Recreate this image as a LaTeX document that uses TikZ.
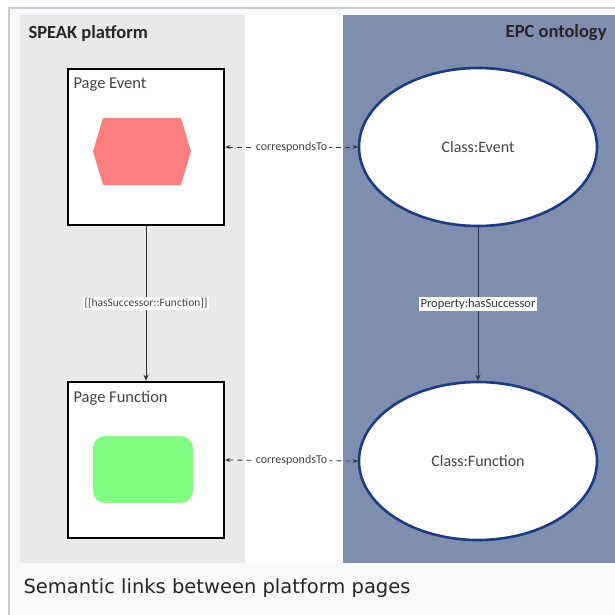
\documentclass[tikz,border=0pt]{standalone}
\usepackage{fontspec}
\setmainfont{Carlito}
\newfontfamily\capfont{DejaVu Sans}
\usetikzlibrary{arrows.meta,shapes.geometric}
\definecolor{framebg}{HTML}{F8F9FA}
\definecolor{frameline}{HTML}{C8CCD1}
\definecolor{leftbg}{HTML}{E9E9E9}
\definecolor{rightbg}{HTML}{7F8DAF}
\definecolor{navy}{HTML}{1B3B82}
\definecolor{hexred}{HTML}{FF7F7F}
\definecolor{rectgreen}{HTML}{80FF80}
\definecolor{txtgray}{HTML}{444444}
\tikzset{
  pagebox/.style={draw=black,line width=2.6pt,fill=white,minimum width=156pt,minimum height=156pt,inner sep=0pt},
  classell/.style={ellipse,draw=navy,line width=2.6pt,fill=white,minimum width=238pt,minimum height=158pt,font=\fontsize{16}{18}\selectfont,text=txtgray},
  boxtitle/.style={anchor=west,font=\fontsize{16.5}{18}\selectfont,text=txtgray},
  head/.style={font=\bfseries\fontsize{18.5}{20}\selectfont,text=black!85},
  succ/.style={draw=black!80,line width=0.8pt,-{Stealth[length=6pt,width=5pt]}},
  corr/.style={draw=black!80,line width=0.8pt,dashed,dash pattern=on 5pt off 4pt,{Stealth[length=5pt,width=4pt]}-{Stealth[length=5pt,width=4pt]}},
  lbl/.style={font=\fontsize{12}{14}\selectfont,text=txtgray,inner sep=1.5pt},
}
\begin{document}
\begin{tikzpicture}[x=1pt,y=-1pt]
\useasboundingbox (0,0) rectangle (614,615);
% frame
\fill[framebg] (9,8) rectangle (630,630);
\draw[frameline,line width=1.2pt] (9,630) -- (9,8) -- (630,8);
\fill[white] (20,15) rectangle (630,563);
% panels
\fill[leftbg] (20,15) rectangle (245,563);
\fill[rightbg] (343,15) rectangle (630,563);
\node[head,anchor=west] (hl) at (25,33) {SPEAK platform};
\node[head,anchor=east] (hr) at (610,33) {EPC ontology};
% page boxes
\node[pagebox] (pe) at (146,147) {};
\node[boxtitle] (pet) at (70,85) {Page Event};
\fill[hexred] (93,151.5) -- (103,118) -- (181,118) -- (191,151.5) -- (181,185) -- (103,185) -- cycle;
\node[pagebox] (pf) at (146,460) {};
\node[boxtitle] (pft) at (70,398) {Page Function};
\node[draw=none,fill=rectgreen,rounded corners=12pt,minimum width=100pt,minimum height=67pt,inner sep=0pt] (gr) at (143,469.5) {};
% ellipses
\node[classell] (ce) at (478,147) {Class:Event};
\node[classell] (cf) at (478,461) {Class:Function};
% connectors
\draw[succ] (pe.south) -- node[lbl,fill=white,font=\fontsize{11.5}{13}\selectfont] (l1) {[[hasSuccessor::Function]]} (pf.north);
\draw[succ] (ce.south) -- node[lbl,fill=white,text=black!80,font=\fontsize{12.5}{14}\selectfont] (l2) {Property:hasSuccessor} (cf.north);
\draw[corr] (pe.east) -- node[lbl,fill=white] (l3) {correspondsTo} (ce.west);
\draw[corr] (pf.east) -- node[lbl,fill=white] (l4) {correspondsTo} (cf.west);
% caption
\node[anchor=west,font=\capfont\fontsize{19.5}{23}\selectfont,text=black!85] (cap) at (20,588) {Semantic links between platform pages};
\end{tikzpicture}
\end{document}
